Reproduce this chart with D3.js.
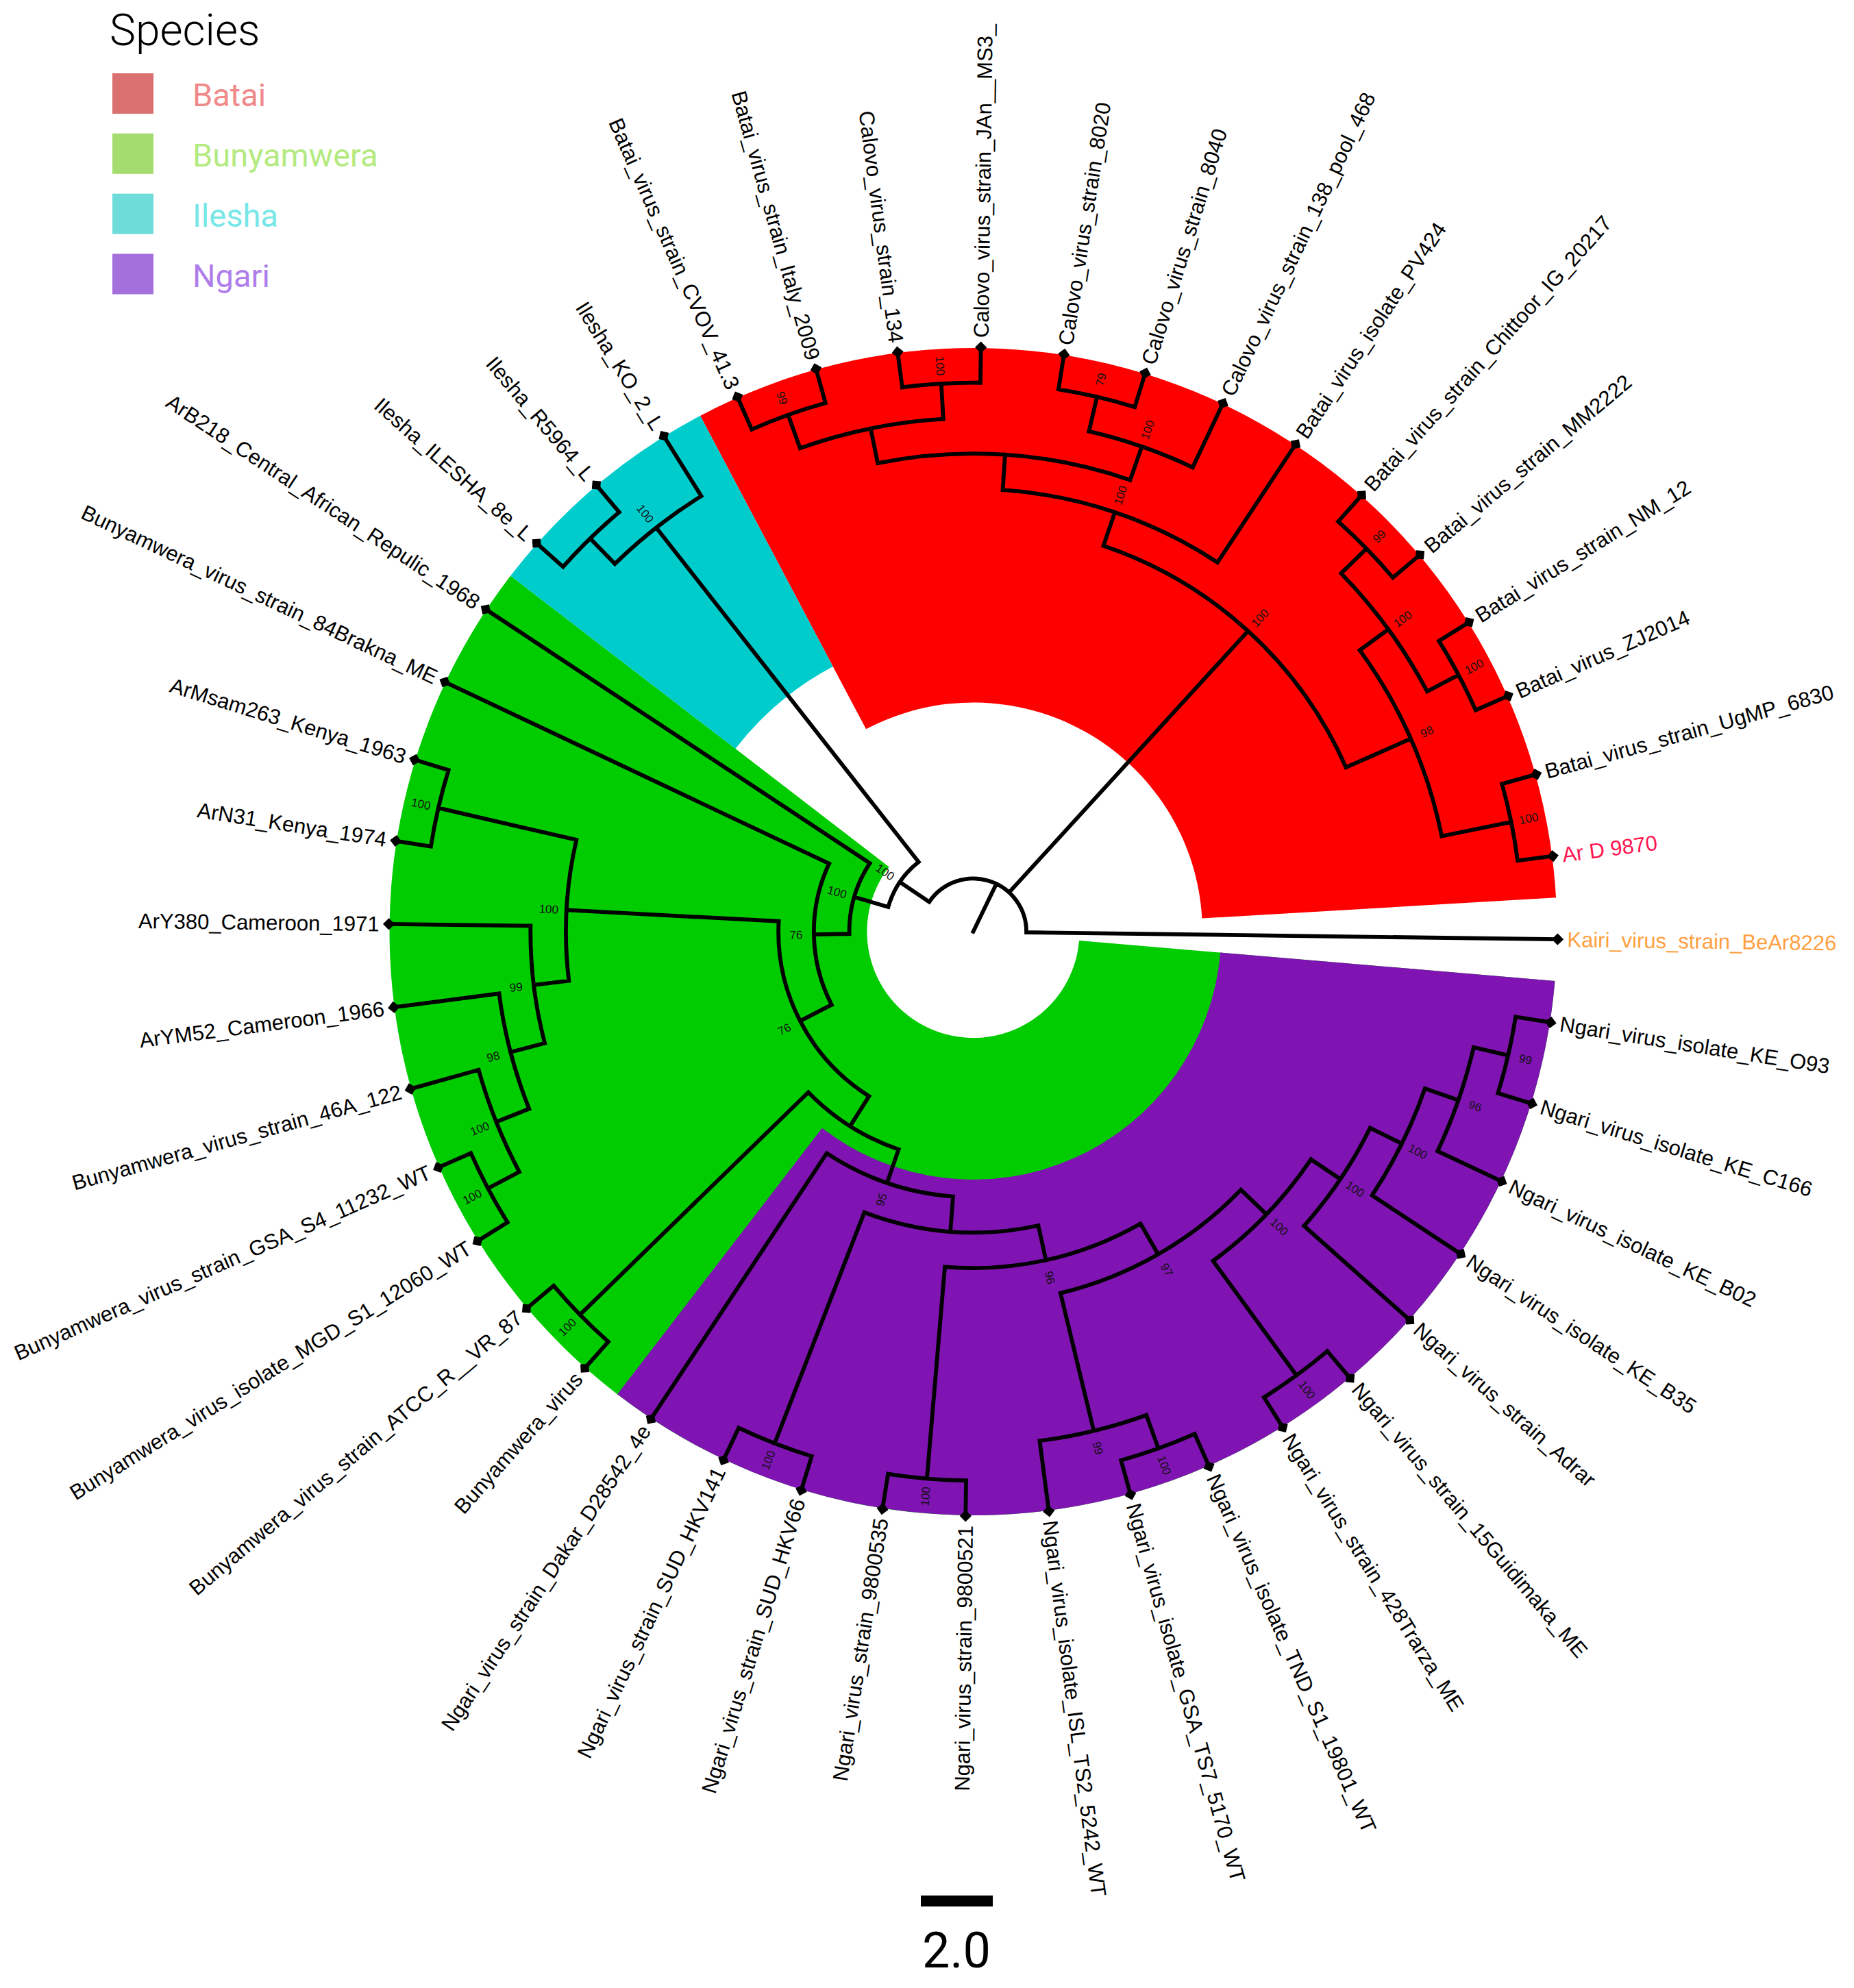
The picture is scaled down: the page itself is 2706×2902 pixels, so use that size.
<!DOCTYPE html>
<html>
<head>
<meta charset="utf-8">
<script src="https://cdn.jsdelivr.net/npm/d3@7"></script>
<style>
html,body{margin:0;padding:0;background:#fff}
svg{display:block}
</style>
</head>
<body>
<svg id="chart" width="2706" height="2902"></svg>
<script>
// ---- Data ----
const tipNames = [
 "Kairi_virus_strain_BeAr8226","Ar D 9870","Batai_virus_strain_UgMP_6830","Batai_virus_ZJ2014","Batai_virus_strain_NM_12",
 "Batai_virus_strain_MM2222","Batai_virus_strain_Chittoor_IG_20217","Batai_virus_isolate_PV424","Calovo_virus_strain_138_pool_468",
 "Calovo_virus_strain_8040","Calovo_virus_strain_8020","Calovo_virus_strain_JAn__MS3_","Calovo_virus_strain_134",
 "Batai_virus_strain_Italy_2009","Batai_virus_strain_CVOV_41.3","Ilesha_KO_2_L","Ilesha_R5964_L","Ilesha_ILESHA_8e_L",
 "ArB218_Central_African_Repulic_1968","Bunyamwera_virus_strain_84Brakna_ME","ArMsam263_Kenya_1963","ArN31_Kenya_1974",
 "ArY380_Cameroon_1971","ArYM52_Cameroon_1966","Bunyamwera_virus_strain_46A_122","Bunyamwera_virus_strain_GSA_S4_11232_WT",
 "Bunyamwera_virus_isolate_MGD_S1_12060_WT","Bunyamwera_virus_strain_ATCC_R__VR_87","Bunyamwera_virus",
 "Ngari_virus_strain_Dakar_D28542_4e","Ngari_virus_strain_SUD_HKV141","Ngari_virus_strain_SUD_HKV66","Ngari_virus_strain_9800535",
 "Ngari_virus_strain_9800521","Ngari_virus_isolate_ISL_TS2_5242_WT","Ngari_virus_isolate_GSA_TS7_5170_WT",
 "Ngari_virus_isolate_TND_S1_19801_WT","Ngari_virus_strain_428Trarza_ME","Ngari_virus_strain_15Guidimaka_ME",
 "Ngari_virus_strain_Adrar","Ngari_virus_isolate_KE_B35","Ngari_virus_isolate_KE_B02","Ngari_virus_isolate_KE_C166","Ngari_virus_isolate_KE_O93"
];
const tipDepth = 16.5;
const accentTips = ["Kairi_virus_strain_BeAr8226","Ar D 9870"];
const accentColors = ["#ff9f3f","#ff1450"];

const nodeNames = ["root","R","I1","I2","S","T","U","V","V1","V2","V3","V4","V5","W","X","Y","Z","Z1","Z2","Z3","Z4","Z5","Z7","Z6","Z8","Z9","Z10","Z11","Z12",
 "B6","B7","B11","B8","B10","B12","B13","B14","B5","B4","B3","B2","B1"];
const nodeDepths = [1.5,2.5,14.5,15.5,3.5,4.5,5.5,11.5,15.5,12.5,13.5,14.5,15.5,6.5,15.5,7.5,8.5,15.5,9.5,15.5,10.5,14.5,15.5,11.5,15.5,12.5,13.5,14.5,15.5,
 11.5,12.5,13.5,14.5,15.5,14.5,15.5,15.5,13.5,14.5,15.5,15.5,15.5];
const nodeSupport = [null,100,100,null,100,76,76,100,100,99,98,100,100,null,100,95,null,100,96,100,97,99,100,100,100,100,100,96,99,
 100,100,null,100,79,null,100,99,98,100,99,100,100];
const nodeChildren = [
 ["Kairi_virus_strain_BeAr8226","B6","R"],["I1","S"],["Ilesha_KO_2_L","I2"],["Ilesha_R5964_L","Ilesha_ILESHA_8e_L"],
 ["ArB218_Central_African_Repulic_1968","T"],["Bunyamwera_virus_strain_84Brakna_ME","U"],["V","W"],["V1","V2"],
 ["ArMsam263_Kenya_1963","ArN31_Kenya_1974"],["ArY380_Cameroon_1971","V3"],["ArYM52_Cameroon_1966","V4"],
 ["Bunyamwera_virus_strain_46A_122","V5"],["Bunyamwera_virus_strain_GSA_S4_11232_WT","Bunyamwera_virus_isolate_MGD_S1_12060_WT"],
 ["X","Y"],["Bunyamwera_virus_strain_ATCC_R__VR_87","Bunyamwera_virus"],["Ngari_virus_strain_Dakar_D28542_4e","Z"],["Z1","Z2"],
 ["Ngari_virus_strain_SUD_HKV141","Ngari_virus_strain_SUD_HKV66"],["Z3","Z4"],["Ngari_virus_strain_9800535","Ngari_virus_strain_9800521"],
 ["Z5","Z6"],["Ngari_virus_isolate_ISL_TS2_5242_WT","Z7"],["Ngari_virus_isolate_GSA_TS7_5170_WT","Ngari_virus_isolate_TND_S1_19801_WT"],
 ["Z8","Z9"],["Ngari_virus_strain_428Trarza_ME","Ngari_virus_strain_15Guidimaka_ME"],["Ngari_virus_strain_Adrar","Z10"],
 ["Ngari_virus_isolate_KE_B35","Z11"],["Ngari_virus_isolate_KE_B02","Z12"],["Ngari_virus_isolate_KE_C166","Ngari_virus_isolate_KE_O93"],
 ["B7","B5"],["B11","Batai_virus_isolate_PV424"],["B8","B12"],["B10","Calovo_virus_strain_138_pool_468"],
 ["Calovo_virus_strain_8020","Calovo_virus_strain_8040"],["B13","B14"],["Calovo_virus_strain_134","Calovo_virus_strain_JAn__MS3_"],
 ["Batai_virus_strain_Italy_2009","Batai_virus_strain_CVOV_41.3"],["B4","B1"],["B3","B2"],
 ["Batai_virus_strain_Chittoor_IG_20217","Batai_virus_strain_MM2222"],["Batai_virus_strain_NM_12","Batai_virus_ZJ2014"],
 ["Batai_virus_strain_UgMP_6830","Ar D 9870"]
];

// Highlighted clades: first tip, last tip, inner depth, colour (drawing order)
const cladeFirst = ["ArB218_Central_African_Repulic_1968","Ngari_virus_strain_Dakar_D28542_4e","Batai_virus_strain_CVOV_41.3","Ilesha_KO_2_L"];
const cladeLast  = ["Ngari_virus_isolate_KE_O93","Ngari_virus_isolate_KE_O93","Ar D 9870","Ilesha_ILESHA_8e_L"];
const cladeInner = [3.0,7.0,6.47,8.47];
const cladeColors = ["#00cc00","#7f14b2","#ff0000","#00cccc"];

const legendTitle = "Species";
const legendNames = ["Batai","Bunyamwera","Ilesha","Ngari"];
const legendSwatch = ["#db7070","#a5dc70","#6edcd8","#a370dc"];
const legendText = ["#f08a8a","#b4ea80","#76e6e6","#b07eea"];
const scaleBarLength = 2.0;
const scaleBarLabel = "2.0";

// ---- Layout ----
const cx = 1420.5, cy = 1360;
const svg = d3.select("#chart");
const rad = d3.scaleLinear().domain([0, tipDepth]).range([0, 853]);
const tipAngle = d3.scaleLinear().domain([0, tipNames.length]).range([0.75, 0.75 - 360]);
const step = 360 / tipNames.length;
const toRad = d => d * Math.PI / 180;
const pt = (a, d) => [cx + rad(d) * Math.cos(toRad(a)), cy + rad(d) * Math.sin(toRad(a))];

// build hierarchy
const childMap = new Map(nodeNames.map((n, i) => [n, nodeChildren[i]]));
const depthMap = new Map(nodeNames.map((n, i) => [n, nodeDepths[i]]));
const supMap = new Map(nodeNames.map((n, i) => [n, nodeSupport[i]]));
const root = d3.hierarchy("root", n => childMap.get(n) || null);
root.eachAfter(n => {
  if (n.children) {
    n.angle = d3.mean(n.children, c => c.angle);
    n.r = depthMap.get(n.data);
    n.support = supMap.get(n.data);
  } else {
    n.angle = tipAngle(tipNames.indexOf(n.data));
    n.r = tipDepth;
  }
});

// clade sectors
const arcGen = d3.arc().cornerRadius(0);
const sectors = svg.append("g").attr("transform", `translate(${cx},${cy})`);
cladeFirst.forEach((f, i) => {
  const a0 = tipAngle(tipNames.indexOf(f));
  const a1 = tipAngle(tipNames.indexOf(cladeLast[i]));
  const lo = Math.min(a0, a1) - step / 2, hi = Math.max(a0, a1) + step / 2;
  sectors.append("path")
    .attr("fill", cladeColors[i])
    .attr("d", arcGen({innerRadius: rad(cladeInner[i]), outerRadius: rad(tipDepth) - 1,
      startAngle: toRad(lo + 90), endAngle: toRad(hi + 90)}));
});

// branches
const branchPath = d3.path();
root.each(n => {
  const parentDepth = n.parent ? n.parent.r : 0;
  const [x0, y0] = pt(n.angle, parentDepth);
  const [x1, y1] = pt(n.angle, n.r);
  branchPath.moveTo(x0, y0);
  branchPath.lineTo(x1, y1);
  if (n.children) {
    const as = n.children.map(c => c.angle);
    const lo = d3.min(as), hi = d3.max(as);
    const [sx, sy] = pt(lo, n.r);
    branchPath.moveTo(sx, sy);
    branchPath.arc(cx, cy, rad(n.r), toRad(lo), toRad(hi), false);
  }
});
svg.append("path").attr("d", branchPath.toString()).attr("fill", "none")
  .attr("stroke", "#000").attr("stroke-width", 5.8).attr("stroke-linejoin", "miter").attr("stroke-linecap", "square");

// helper for radial text
function radialText(sel, angle, r, offset) {
  const a = ((angle % 360) + 360) % 360;
  const flip = a > 90 && a < 270;
  const [x, y] = [cx + (r + offset) * Math.cos(toRad(angle)), cy + (r + offset) * Math.sin(toRad(angle))];
  sel.attr("transform", `translate(${x},${y}) rotate(${flip ? angle + 180 : angle})`);
  return flip;
}

// support labels
const gSup = svg.append("g").attr("font-family", "'Liberation Sans', Arial, sans-serif").attr("font-size", 17).attr("fill", "#111");
root.descendants().filter(n => n.children && n.support != null).forEach(n => {
  const t = gSup.append("text").text(n.support).attr("text-anchor", "middle").attr("dy", "0.35em");
  radialText(t, n.angle, rad(n.r), 26);
});

// tips
const gTips = svg.append("g");
const gLabels = svg.append("g").attr("font-family", "'Liberation Sans', Arial, sans-serif").attr("font-size", 31);
const marker = d3.symbol().type(d3.symbolSquare).size(150);
root.leaves().forEach(n => {
  const [x, y] = pt(n.angle, n.r);
  gTips.append("path").attr("d", marker()).attr("fill", "#000")
    .attr("transform", `translate(${x},${y}) rotate(${n.angle + 45})`);
  const k = accentTips.indexOf(n.data);
  const t = gLabels.append("text").text(n.data).attr("dy", "0.35em")
    .attr("fill", k >= 0 ? accentColors[k] : "#000");
  const flip = radialText(t, n.angle, rad(n.r), 14);
  t.attr("text-anchor", flip ? "end" : "start");
});

// legend
const gLeg = svg.append("g").attr("font-family", "Roboto, sans-serif");
gLeg.append("text").text(legendTitle).attr("x", 160).attr("y", 66).attr("font-size", 64).attr("font-weight", 300).attr("fill", "#000");
const legY = d3.scalePoint().domain(legendNames).range([107, 370.5]);
legendNames.forEach((n, i) => {
  gLeg.append("rect").attr("x", 164).attr("y", legY(n)).attr("width", 60).attr("height", 59).attr("fill", legendSwatch[i]);
  gLeg.append("text").text(n).attr("x", 281).attr("y", legY(n) + 48).attr("font-size", 47).attr("fill", legendText[i]);
});

// scale bar
const barLen = rad(scaleBarLength) * 105 / rad(2.0);
svg.append("rect").attr("x", 1344).attr("y", 2767).attr("width", barLen).attr("height", 16).attr("fill", "#000");
svg.append("text").text(scaleBarLabel).attr("x", 1396).attr("y", 2872).attr("text-anchor", "middle")
  .attr("font-family", "Roboto, sans-serif").attr("font-size", 72).attr("fill", "#000");
</script>
</body>
</html>
